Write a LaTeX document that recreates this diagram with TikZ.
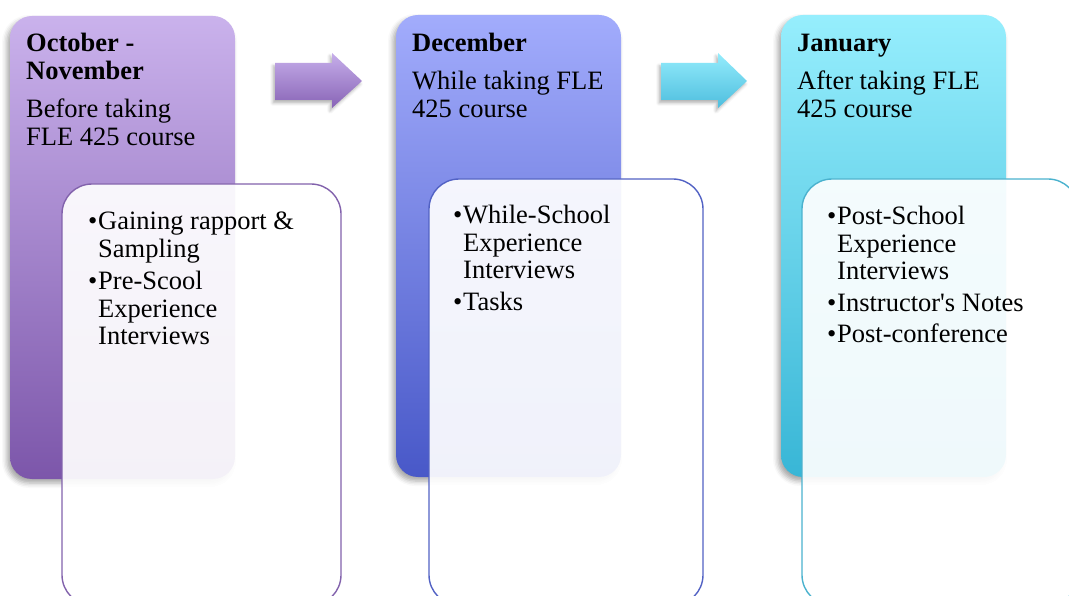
\documentclass[tikz,border=0pt]{standalone}
\usepackage{fontspec}
\setmainfont{Liberation Serif}[Ligatures=TeXOff]
\usetikzlibrary{shadows.blur}

% phase colours
\definecolor{purpTop}{RGB}{202,178,236}
\definecolor{purpMid}{RGB}{184,156,224}
\definecolor{purpBot}{RGB}{124,86,170}
\definecolor{blueTop}{RGB}{162,172,252}
\definecolor{blueMid}{RGB}{140,152,240}
\definecolor{blueBot}{RGB}{72,88,200}
\definecolor{cyanTop}{RGB}{150,238,253}
\definecolor{cyanMid}{RGB}{124,224,244}
\definecolor{cyanBot}{RGB}{56,182,214}
% detail box outlines
\definecolor{purpLine}{RGB}{130,98,172}
\definecolor{blueLine}{RGB}{82,98,196}
\definecolor{cyanLine}{RGB}{74,178,206}
% arrow colours
\definecolor{arrPTop}{RGB}{198,174,234}
\definecolor{arrPBot}{RGB}{136,100,182}
\definecolor{arrCTop}{RGB}{148,236,252}
\definecolor{arrCBot}{RGB}{78,190,222}

% bullet item with hanging indent; lines inside an item are split with \newline
\newcommand\phaseitem[1]{\par\hangindent=10pt\hangafter=1\noindent\makebox[10pt][l]{•}#1\par}

\begin{document}
\begin{tikzpicture}[x=1pt,y=-1pt,
  phase/.style={rectangle, rounded corners=22pt, inner sep=0pt,
    minimum width=225pt,
    blur shadow={shadow xshift=-3pt, shadow yshift=-4pt,
      shadow blur radius=5pt, shadow opacity=35}},
  detail/.style={rectangle, rounded corners=30pt, inner sep=0pt,
    line width=1.4pt, fill=white, fill opacity=0.92},
  title/.style={anchor=base west, inner sep=0pt, font=\fontsize{26.5}{28}\selectfont\bfseries},
  sub/.style={anchor=base west, inner sep=0pt, font=\fontsize{26.5}{28}\selectfont},
  items/.style={anchor=base west, inner sep=0pt, font=\fontsize{26.5}{27.5}\selectfont},
  stepshade/.style={blur shadow={shadow xshift=-2pt, shadow yshift=-3pt,
      shadow blur radius=3pt, shadow opacity=30}}
]
\useasboundingbox (0,0) rectangle (1069,596);
\clip (0,0) rectangle (1069,596);

% phase boxes
\node[phase, minimum height=463pt, top color=purpTop, middle color=purpMid, bottom color=purpBot]
  (p1) at (122.5,247.5) {};
\node[phase, minimum height=462pt, top color=blueTop, middle color=blueMid, bottom color=blueBot]
  (p2) at (508.5,246) {};
\node[phase, minimum height=462pt, top color=cyanTop, middle color=cyanMid, bottom color=cyanBot]
  (p3) at (893.5,246) {};

% block arrows between phases
\shade[stepshade, top color=arrPTop, bottom color=arrPBot]
  (275,63) -- (332,63) -- (332,53) -- (362,81) -- (332,108) -- (332,100) -- (275,100) -- cycle;
\shade[stepshade, top color=arrCTop, bottom color=arrCBot]
  (661,63) -- (718,63) -- (718,53) -- (747,81) -- (718,108) -- (718,100) -- (661,100) -- cycle;

% detail boxes
\node[detail, draw=purpLine, minimum width=279pt, minimum height=421pt] (d1) at (201.5,394.5) {};
\node[detail, draw=blueLine, minimum width=274pt, minimum height=426pt] (d2) at (566,392) {};
\node[detail, draw=cyanLine, minimum width=276pt, minimum height=426pt] (d3) at (940,392) {};

% phase titles
\node[title] (t1) at (26,52) {\parbox[t]{210pt}{October -\\November}};
\node[sub]   (s1) at (26,118) {\parbox[t]{210pt}{Before taking\\FLE 425 course}};
\node[title] (t2) at (412,52) {\parbox[t]{210pt}{December}};
\node[sub]   (s2) at (412,90) {\parbox[t]{210pt}{While taking FLE\\425 course}};
\node[title] (t3) at (797,52) {\parbox[t]{210pt}{January}};
\node[sub]   (s3) at (797,90) {\parbox[t]{210pt}{After taking FLE\\425 course}};

% bullet lists
\node[items] (b1) at (88,230) {\parbox[t]{250pt}{\raggedright\setlength\parskip{5pt}%
  \phaseitem{Gaining rapport \&\newline Sampling}%
  \phaseitem{Pre-Scool\newline Experience\newline Interviews}}};
\node[items] (b2) at (453,224) {\parbox[t]{250pt}{\raggedright\setlength\parskip{4.5pt}%
  \phaseitem{While-School\newline Experience\newline Interviews}%
  \phaseitem{Tasks}}};
\node[items] (b3) at (827,225) {\parbox[t]{250pt}{\raggedright\setlength\parskip{4pt}%
  \phaseitem{Post-School\newline Experience\newline Interviews}%
  \phaseitem{Instructor's Notes}%
  \phaseitem{Post-conference}}};
\end{tikzpicture}
\end{document}
